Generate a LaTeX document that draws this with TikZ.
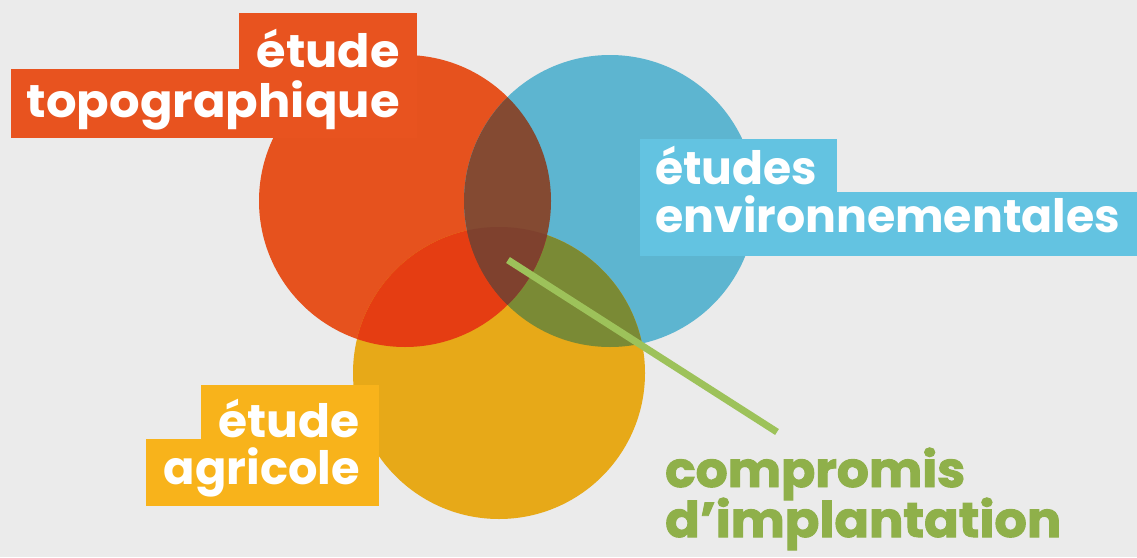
\documentclass[tikz,border=0pt]{standalone}
\usepackage{graphicx}
\usepackage{fontspec}
\setmainfont{Poppins}
\newfontfamily\heavyfont{Poppins}[BoldFeatures={FakeBold=2}]
\definecolor{bgc}{HTML}{EBEBEB}
\definecolor{redc}{HTML}{E6521E}
\definecolor{bluec}{HTML}{5DB5D0}
\definecolor{yellowc}{HTML}{E7A918}
\definecolor{redyel}{HTML}{E53D12}
\definecolor{redblue}{HTML}{844A32}
\definecolor{triple}{HTML}{7F412E}
\definecolor{blueyel}{HTML}{7A8A35}
\definecolor{orangebox}{HTML}{E8531F}
\definecolor{bluebox}{HTML}{63C3E1}
\definecolor{yellowbox}{HTML}{F8B31B}
\definecolor{linec}{HTML}{9DC25A}
\definecolor{greentext}{HTML}{8FB04A}
\newcommand\fitto[2]{\resizebox{#1pt}{\height}{#2}}
\tikzset{
  lbl/.style={inner sep=0pt, text=white, font=\fontsize{46}{46}\selectfont\bfseries},
  greenlbl/.style={inner sep=0pt, text=greentext, font=\fontsize{49}{49}\selectfont\heavyfont\bfseries},
  connector/.style={draw=linec, line width=7pt}
}
\begin{document}
\begin{tikzpicture}[x=1pt,y=-1pt]
\useasboundingbox (0,0) rectangle (1137,557);
\fill[bgc] (0,0) rectangle (1137,557);
% circles
\fill[redc] (405,201) circle[radius=146];
\fill[bluec] (610,201) circle[radius=146];
\fill[yellowc] (499,373) circle[radius=146];
\begin{scope}
  \clip (610,201) circle[radius=146];
  \fill[blueyel] (499,373) circle[radius=146];
\end{scope}
\begin{scope}
  \clip (405,201) circle[radius=146];
  \fill[redyel] (499,373) circle[radius=146];
  \fill[redblue] (610,201) circle[radius=146];
  \clip (610,201) circle[radius=146];
  \fill[triple] (499,373) circle[radius=146];
\end{scope}
% label boxes
\fill[orangebox] (239,13) rectangle (417,70);
\fill[orangebox] (11,69) rectangle (417,138);
\fill[bluebox] (640,139) rectangle (837,193);
\fill[bluebox] (640,192) rectangle (1137,256);
\fill[yellowbox] (201,385) rectangle (379,440);
\fill[yellowbox] (146,439) rectangle (379,506);
% texts
\node[lbl, anchor=base east] (topo1) at (400,67) {\fitto{143}{étude}};
\node[lbl, anchor=base east] (topo2) at (400,117) {\fitto{373}{topographique}};
\node[lbl, anchor=base west] (env1) at (655,184) {\fitto{162}{études}};
\node[lbl, anchor=base west] (env2) at (655,232) {\fitto{465}{environnementales}};
\node[lbl, anchor=base east] (agr1) at (360,437) {\fitto{141}{étude}};
\node[lbl, anchor=base east] (agr2) at (360,484) {\fitto{196}{agricole}};
\node[greenlbl, anchor=base west] (comp1) at (665,487) {\fitto{300}{compromis}};
\node[greenlbl, anchor=base west] (comp2) at (665,537) {\fitto{396}{d’implantation}};
% connector
\coordinate (center) at (508,260);
\coordinate (lineend) at (777,432);
\draw[connector] (center) -- (lineend);
\end{tikzpicture}
\end{document}
